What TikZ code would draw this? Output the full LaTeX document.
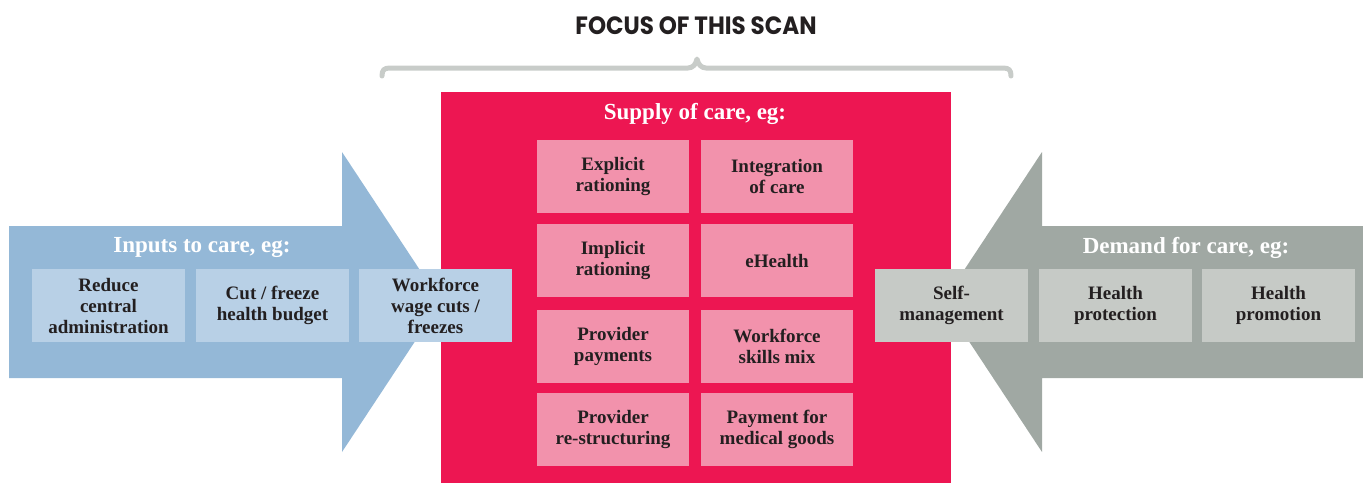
\documentclass[tikz,border=0pt]{standalone}
\usepackage{fontspec}
\setmainfont{Liberation Serif}
\newfontfamily\headfont[FakeStretch=0.92]{Poppins}
\definecolor{inarrow}{RGB}{148,184,215}
\definecolor{inbox}{RGB}{184,208,230}
\definecolor{supply}{RGB}{237,22,82}
\definecolor{supbox}{RGB}{242,146,172}
\definecolor{demarrow}{RGB}{160,168,163}
\definecolor{dembox}{RGB}{198,202,198}
\definecolor{bracegray}{RGB}{200,204,201}
\definecolor{ink}{RGB}{35,31,32}
\begin{document}
\begin{tikzpicture}[x=1pt,y=-1pt,
  item/.style={minimum width=152pt,minimum height=73pt,inner sep=0pt,align=center,
    text=ink,font=\bfseries\fontsize{19}{21}\selectfont},
  inputitem/.style={item,fill=inbox},
  supplyitem/.style={item,fill=supbox},
  demanditem/.style={item,fill=dembox},
  grouptitle/.style={text=white,inner sep=0pt,font=\bfseries\fontsize{23}{27}\selectfont}]
\useasboundingbox (0,0) rectangle (1363,483);

% heading and brace
\node[text=ink,inner sep=0pt,font=\headfont\bfseries\fontsize{25}{28}\selectfont] (focus) at (696,26) {FOCUS OF THIS SCAN};
\draw[bracegray,line width=5pt,line cap=round,line join=round]
  (382,76) .. controls (382,70) and (384,68) .. (390,68) -- (688,68)
  .. controls (693,68) and (696,64) .. (697,59)
  .. controls (698,64) and (701,68) .. (706,68) -- (1003,68)
  .. controls (1009,68) and (1011,70) .. (1011,76);

% input and demand arrows
\fill[inarrow] (9,226) -- (342,226) -- (342,152) -- (441,302) -- (342,452) -- (342,378) -- (9,378) -- cycle;
\fill[demarrow] (1363,226) -- (1042,226) -- (1042,152) -- (943,302) -- (1042,452) -- (1042,378) -- (1363,378) -- cycle;

% supply block
\fill[supply] (441,92) rectangle (951,483);
\node[grouptitle] (supplytitle) at (695,114) {Supply of care, eg:};
\node[grouptitle] (inputtitle) at (202,248) {Inputs to care, eg:};
\node[grouptitle] (demandtitle) at (1186,248) {Demand for care, eg:};

% supply measures
\node[supplyitem] (s11) at (613,176) {Explicit\\rationing};
\node[supplyitem] (s12) at (777,176) {Integration\\of care};
\node[supplyitem] (s21) at (613,260.5) {Implicit\\rationing};
\node[supplyitem] (s22) at (777,260.5) {eHealth};
\node[supplyitem] (s31) at (613,346) {Provider\\payments};
\node[supplyitem] (s32) at (777,346) {Workforce\\skills mix};
\node[supplyitem] (s41) at (613,429.5) {Provider\\re-structuring};
\node[supplyitem] (s42) at (777,429.5) {Payment for\\medical goods};

% input measures
\node[inputitem,minimum width=153pt] (i1) at (108.5,305.5) {Reduce\\central\\administration};
\node[inputitem,minimum width=153pt] (i2) at (272.5,305.5) {Cut / freeze\\health budget};
\node[inputitem,minimum width=153pt] (i3) at (435.5,305.5) {Workforce\\wage cuts /\\freezes};

% demand measures
\node[demanditem,minimum width=153pt] (d1) at (951.5,305.5) {Self-\\management};
\node[demanditem,minimum width=153pt] (d2) at (1115.5,305.5) {Health\\protection};
\node[demanditem,minimum width=153pt] (d3) at (1278.5,305.5) {Health\\promotion};
\end{tikzpicture}
\end{document}
